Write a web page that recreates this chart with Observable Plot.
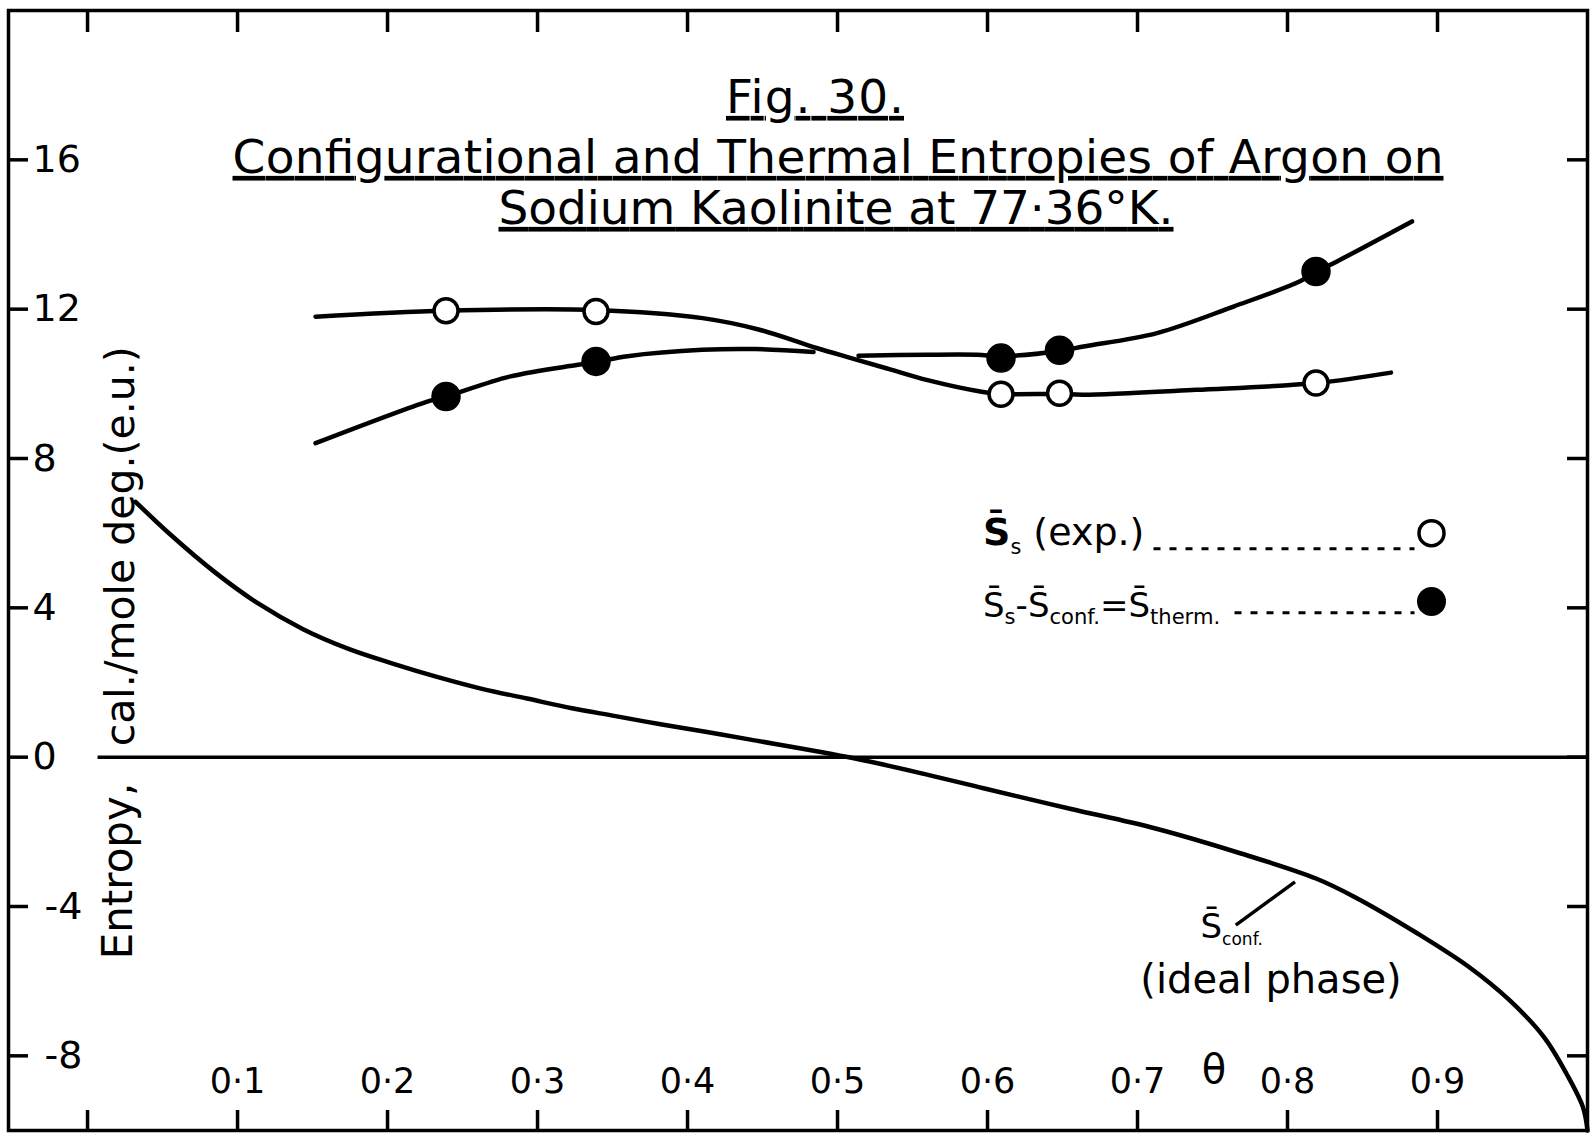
<!DOCTYPE html>
<html><head><meta charset="utf-8">
<script src="https://cdn.jsdelivr.net/npm/d3@7"></script>
<script src="https://cdn.jsdelivr.net/npm/@observablehq/plot@0.6"></script>
<style>html,body{margin:0;padding:0;background:#fff}svg{display:block}</style>
</head><body><div id="chart"></div>
<script>
// ---------- data ----------
const xTicks = [0, 0.1, 0.2, 0.3, 0.4, 0.5, 0.6, 0.7, 0.8, 0.9];
const xLabelTheta = [0.1, 0.2, 0.3, 0.4, 0.5, 0.6, 0.7, 0.8, 0.9];
const xTickLabels = ["0·1", "0·2", "0·3", "0·4", "0·5", "0·6", "0·7", "0·8", "0·9"];
const yTicks = [16, 12, 8, 4, 0, -4, -8];
const yTickLabels = ["16", "12", "8", "4", "0", "-4", "-8"];

// measured points: S_s (exp.) open circles, S_therm filled circles
const pointTheta = [0.239, 0.339, 0.609, 0.648, 0.819];
const expS = [11.96, 11.94, 9.72, 9.75, 10.02];
const thermS = [9.66, 10.60, 10.69, 10.90, 13.01];

// hand-drawn curve through S_s (exp.)
const expCurveTheta = [0.152, 0.239, 0.339, 0.410, 0.448, 0.486, 0.509, 0.534, 0.560, 0.596, 0.609, 0.648, 0.664, 0.739, 0.819, 0.869];
const expCurveS     = [11.80, 11.96, 11.98, 11.76, 11.45, 10.96, 10.69, 10.40, 10.10, 9.79, 9.73, 9.73, 9.71, 9.84, 10.02, 10.30];

// hand-drawn curve through S_therm (two strokes, broken where it crosses)
const thermCurveTheta = [0.152, 0.227, 0.239, 0.282, 0.327, 0.341, 0.360, 0.410, 0.445, 0.484,
                         0.514, 0.560, 0.593, 0.609, 0.648, 0.664, 0.713, 0.764, 0.808, 0.819, 0.833, 0.883];
const thermCurveS     = [8.41, 9.53, 9.66, 10.20, 10.51, 10.60, 10.74, 10.91, 10.93, 10.85,
                         10.75, 10.78, 10.78, 10.74, 10.88, 11.00, 11.36, 12.07, 12.74, 13.00, 13.28, 14.35];
const thermCurveStroke = [1,1,1,1,1,1,1,1,1,1, 2,2,2,2,2,2,2,2,2,2,2,2];

// S_conf (ideal phase)
const confTheta = [0.032, 0.055, 0.085, 0.114, 0.144, 0.174, 0.204, 0.233, 0.263, 0.293, 0.323, 0.352, 0.382, 0.412, 0.442,
                   0.511, 0.561, 0.598, 0.655, 0.712, 0.769, 0.819, 0.845, 0.887, 0.921, 0.948, 0.971, 0.986, 0.997, 1.0];
const confS     = [6.84, 5.97, 4.95, 4.11, 3.42, 2.90, 2.50, 2.15, 1.83, 1.57, 1.31, 1.10, 0.88, 0.68, 0.47,
                   -0.03, -0.48, -0.84, -1.38, -1.91, -2.58, -3.25, -3.75, -4.73, -5.62, -6.51, -7.50, -8.48, -9.38, -10.0];

// legend symbols (placed inside the plot)
const legendTheta = 0.896;
const legendS = [6.0, 4.17];
const legendLineTheta = [[0.711, 0.885], [0.765, 0.885]];
const legendLineS = [5.58, 3.87];

// texts
const titleLines = ["Fig. 30.", "Configurational and Thermal Entropies of Argon on", "Sodium Kaolinite at 77·36°K."];
const yLabelParts = ["Entropy,", "cal./mole deg.(e.u.)"];
const thetaLabel = "θ";

// ---------- build ----------
const W = 1593, H = 1133;
const mL = 8, mR = 6, mT = 10, mB = 3;
const innerW = W - mL - mR, innerH = H - mT - mB;

const points = pointTheta.map((t, i) => ({theta: t, exp: expS[i], therm: thermS[i]}));
const expCurve = expCurveTheta.map((t, i) => ({theta: t, s: expCurveS[i]}));
const thermCurve = thermCurveTheta.map((t, i) => ({theta: t, s: thermCurveS[i], z: thermCurveStroke[i]}));
const confCurve = confTheta.map((t, i) => ({theta: t, s: confS[i]}));
const xLabels = xLabelTheta.map((t, i) => ({theta: t, label: xTickLabels[i]}));
const yLabels = yTicks.map((v, i) => ({v, label: yTickLabels[i]}));
const yLabelsPos = yLabels.filter(d => d.v >= 0);
const yLabelsNeg = yLabels.filter(d => d.v < 0);
const legendLines = legendLineTheta.map((r, i) => ({x1: r[0], x2: r[1], y: legendLineS[i]}));

const rich = [
  {key: "S̄s (exp.)", fs: 38, parts: [["S̄", "bold"], ["s", "sub", 0.55], [" (exp.)", "n"]]},
  {key: "S̄s-S̄conf.=S̄therm.", fs: 34, parts: [["S̄", "n"], ["s", "sub", 0.62], ["-", "n"], ["S̄", "n"], ["conf.", "sub", 0.62], ["=", "n"], ["S̄", "n"], ["therm.", "sub", 0.62]]},
  {key: "S̄conf.", fs: 34, parts: [["S̄", "n"], ["conf.", "sub", 0.5]]}
];

const chart = Plot.plot({
  width: W, height: H,
  marginLeft: mL, marginRight: mR, marginTop: mT, marginBottom: mB,
  x: {domain: [-0.0527, 1.0], axis: null},
  y: {domain: [-10, 20], axis: null},
  style: {fontFamily: "DejaVu Sans", background: "white", color: "black"},
  marks: [
    Plot.frame({stroke: "black", strokeWidth: 3.5}),
    // ticks
    Plot.tickX(xTicks, {x: d => d, insetBottom: innerH - 22, strokeWidth: 3.5}),
    Plot.tickX(xTicks, {x: d => d, insetTop: innerH - 20, strokeWidth: 3.5}),
    Plot.tickY(yTicks, {y: d => d, insetRight: innerW - 20, strokeWidth: 3.5}),
    Plot.tickY(yTicks, {y: d => d, insetLeft: innerW - 20, strokeWidth: 3.5}),
    // zero line
    Plot.ruleY([0], {x1: 0.007, x2: 1.0, strokeWidth: 3.5}),
    // curves
    Plot.line(confCurve, {x: "theta", y: "s", curve: "catmull-rom", strokeWidth: 4.5, strokeLinecap: "round"}),
    Plot.line(expCurve, {x: "theta", y: "s", curve: "catmull-rom", strokeWidth: 4.5, strokeLinecap: "round"}),
    Plot.line(thermCurve, {x: "theta", y: "s", z: "z", curve: "catmull-rom", strokeWidth: 4.5, strokeLinecap: "round"}),
    // points
    Plot.dot(points, {x: "theta", y: "exp", r: 12, fill: "white", stroke: "black", strokeWidth: 3.5}),
    Plot.dot(points, {x: "theta", y: "therm", r: 14, fill: "black", stroke: "black"}),
    // legend
    Plot.ruleY(legendLines, {x1: "x1", x2: "x2", y: "y", strokeWidth: 3, strokeDasharray: "7,9"}),
    Plot.dot([legendS[0]], {x: () => legendTheta, y: d => d, r: 12.5, fill: "white", stroke: "black", strokeWidth: 3.5}),
    Plot.dot([legendS[1]], {x: () => legendTheta, y: d => d, r: 14.5, fill: "black"}),
    Plot.text(["S̄s (exp.)"], {x: () => 0.597, y: () => 6.0, text: d => d, textAnchor: "start", fontSize: 38}),
    Plot.text(["S̄s-S̄conf.=S̄therm."], {x: () => 0.597, y: () => 4.05, text: d => d, textAnchor: "start", fontSize: 34}),
    // S_conf annotation
    Plot.link([0], {x1: () => 0.805, y1: () => -3.34, x2: () => 0.7655, y2: () => -4.5, strokeWidth: 3.5}),
    Plot.text(["S̄conf."], {x: () => 0.742, y: () => -4.55, text: d => d, textAnchor: "start", fontSize: 34}),
    Plot.text(["(ideal phase)"], {x: () => 0.789, y: () => -5.98, text: d => d, fontSize: 40}),
    // tick labels
    Plot.text(xLabels, {x: "theta", text: "label", frameAnchor: "bottom", dy: -38, fontSize: 35}),
    Plot.text(yLabelsPos, {y: "v", text: "label", frameAnchor: "left", dx: 24, textAnchor: "start", fontSize: 38}),
    Plot.text(yLabelsNeg, {y: "v", text: "label", frameAnchor: "left", dx: 36, textAnchor: "start", fontSize: 38}),
    // axis labels
    Plot.text([thetaLabel], {x: () => 0.751, y: () => -8.38, text: d => d, fontSize: 40}),
    Plot.text([yLabelParts[0]], {y: () => -3.05, text: d => d, frameAnchor: "left", dx: 110, rotate: -90, textAnchor: "middle", fontSize: 42}),
    Plot.text([yLabelParts[1]], {y: () => 5.65, text: d => d, frameAnchor: "left", dx: 112, rotate: -90, textAnchor: "middle", fontSize: 41}),
    // title
    Plot.text([titleLines[0]], {frameAnchor: "top", text: d => d, dx: 17, dy: 69, fontSize: 47}),
    Plot.text([titleLines[1]], {frameAnchor: "top", text: d => d, dx: 40, dy: 129, fontSize: 47}),
    Plot.text([titleLines[2]], {frameAnchor: "top", text: d => d, dx: 38, dy: 180, fontSize: 47})
  ]
});

document.getElementById("chart").appendChild(chart);

// rich text (overbars, subscripts) and underlined title
const svgns = "http://www.w3.org/2000/svg";
const titleWidths = {};
titleWidths[titleLines[0]] = 178;
titleWidths[titleLines[1]] = 1211;
titleWidths[titleLines[2]] = 675;
d3.select(chart).selectAll("text").each(function() {
  const t = this.textContent;
  if (titleWidths[t]) {
    this.setAttribute("textLength", titleWidths[t]);
    this.setAttribute("lengthAdjust", "spacing");
    this.style.textDecoration = "underline";
    this.style.textDecorationThickness = "3px";
    this.style.textUnderlineOffset = "7px";
    return;
  }
  const r = rich.find(q => q.key === t);
  if (!r) return;
  const fs = r.fs;
  this.textContent = "";
  let shift = 0;
  for (const [txt, kind, sc] of r.parts) {
    const ts = document.createElementNS(svgns, "tspan");
    ts.textContent = txt;
    const target = kind === "sub" ? fs * 0.22 : 0;
    ts.setAttribute("dy", target - shift);
    shift = target;
    if (kind === "sub") ts.setAttribute("font-size", fs * sc);
    if (kind === "bold") ts.setAttribute("font-weight", "bold");
    this.appendChild(ts);
  }
});
</script>
</body></html>
